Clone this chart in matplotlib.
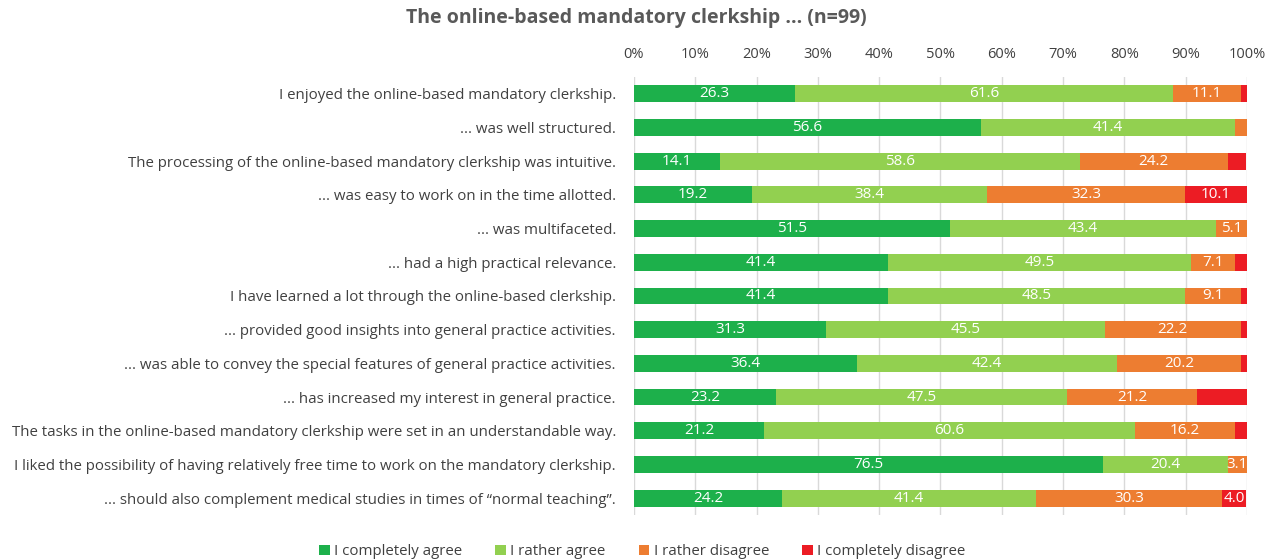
import matplotlib.pyplot as plt
import numpy as np

plt.rcParams['font.family'] = ['Open Sans', 'DejaVu Sans']

# Items (top to bottom)
items = [
    "I enjoyed the online-based mandatory clerkship.",
    "... was well structured.",
    "The processing of the online-based mandatory clerkship was intuitive.",
    "... was easy to work on in the time allotted.",
    "... was multifaceted.",
    "... had a high practical relevance.",
    "I have learned a lot through the online-based clerkship.",
    "... provided good insights into general practice activities.",
    "... was able to convey the special features of general practice activities.",
    "... has increased my interest in general practice.",
    "The tasks in the online-based mandatory clerkship were set in an understandable way.",
    "I liked the possibility of having relatively free time to work on the mandatory clerkship.",
    "... should also complement medical studies in times of \u201cnormal teaching\u201d.",
]

completely_agree = [26.3, 56.6, 14.1, 19.2, 51.5, 41.4, 41.4, 31.3, 36.4, 23.2, 21.2, 76.5, 24.2]
rather_agree = [61.6, 41.4, 58.6, 38.4, 43.4, 49.5, 48.5, 45.5, 42.4, 47.5, 60.6, 20.4, 41.4]
rather_disagree = [11.1, 2.0, 24.2, 32.3, 5.1, 7.1, 9.1, 22.2, 20.2, 21.2, 16.2, 3.1, 30.3]
completely_disagree = [1.0, 0.0, 3.0, 10.1, 0.0, 2.0, 1.0, 1.0, 1.0, 8.1, 2.0, 0.0, 4.0]

series_names = ["I completely agree", "I rather agree", "I rather disagree", "I completely disagree"]
colors = ['#1DB04B', '#92D050', '#ED7D31', '#EC1C24']

# which labels were shown in the original (small ones hidden)
show_label = [
    [True] * 13,
    [True] * 13,
    [True, False] + [True] * 11,
    [False, False, False, True] + [False] * 8 + [True],
]

series = [completely_agree, rather_agree, rather_disagree, completely_disagree]

fig = plt.figure(figsize=(12.72, 5.59), dpi=100)
ax = fig.add_axes([0.4984, 0.0787, 0.4819, 0.7836])

y = np.arange(len(items))
left = np.zeros(len(items))
for vals, name, col, shown in zip(series, series_names, colors, show_label):
    vals = np.array(vals)
    ax.barh(y, vals, left=left, height=0.5, color=col, label=name, zorder=3)
    for i, v in enumerate(vals):
        if shown[i] and v > 0:
            ax.text(left[i] + v / 2, y[i], f'{v:.1f}', ha='center', va='center',
                    color='white', fontsize=11, zorder=4)
    left += vals

ax.set_xlim(0, 100)
ax.set_ylim(len(items) - 0.5, -0.5)
ax.set_yticks(y)
ax.set_yticklabels(items, fontsize=10.8, color='#404040')
ax.set_xticks(np.arange(0, 101, 10))
ax.set_xticklabels([f'{t}%' for t in range(0, 101, 10)], fontsize=10.5, color='#404040')
ax.xaxis.tick_top()
ax.tick_params(axis='both', length=0)
ax.tick_params(axis='y', pad=13)
ax.tick_params(axis='x', pad=11)
ax.grid(axis='x', color='#D9D9D9', linewidth=1, zorder=0)
for s in ax.spines.values():
    s.set_visible(False)

fig.suptitle("The online-based mandatory clerkship ... (n=99)", x=0.5, y=0.985,
             fontsize=14, fontweight='bold', color='#595959')

handles, labels = ax.get_legend_handles_labels()
fig.legend(handles, labels, loc='lower center', bbox_to_anchor=(0.505, -0.025), ncol=4,
           frameon=False, fontsize=10.8, handlelength=0.7, handleheight=0.7,
           columnspacing=2.2, handletextpad=0.3, labelcolor='#404040')

plt.savefig('out.png', dpi=100)
